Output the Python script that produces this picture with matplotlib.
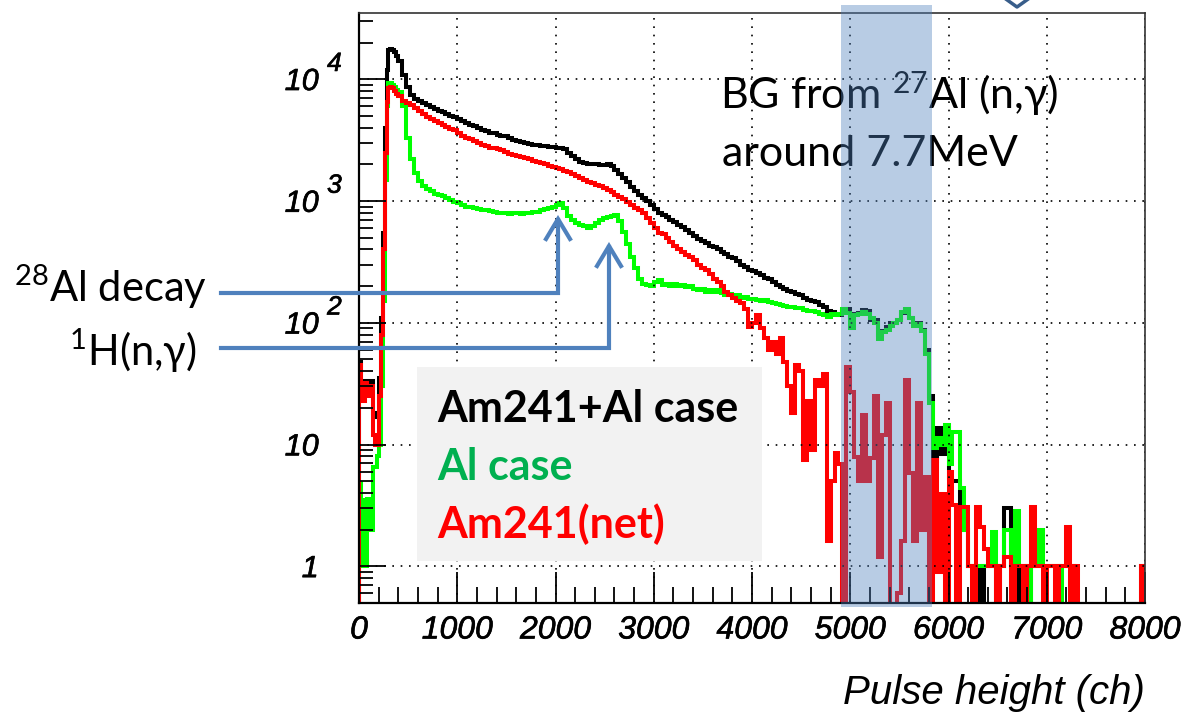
import numpy as np
import matplotlib
matplotlib.use('Agg')
import matplotlib.pyplot as plt
import matplotlib.patheffects as pe
from matplotlib.patches import Rectangle
from matplotlib.lines import Line2D
from matplotlib.ticker import MultipleLocator, LogLocator, NullFormatter
from matplotlib.transforms import blended_transform_factory

# ---- data -------------------------------------------------------------------
# bin edges in channels: 20 ch wide below 400, 40 ch wide above
edges = np.concatenate([np.arange(0, 400, 20), np.arange(400, 8001, 40)])

# Am241+Al case (black)
am_al = ([48, 31, 26, 33, 29, 31, 33, 18, 17, 18, 35, 110, 550, 4000, 12000,
          17500, 17800, 17400, 16600, 15500] +
         [14000, 10800, 8700, 7400, 6900, 6600, 6400, 6100, 5900, 5700, 5500, 5350,
          5200, 5000, 4900] +
         [4700, 4500, 4350, 4250, 4100, 3950, 3850, 3780, 3650, 3600, 3500, 3450, 3400,
          3280, 3200, 3120, 3050, 3000, 2950, 2900, 2880, 2850, 2820, 2800, 2770] +
         [2750, 2720, 2650, 2500, 2350, 2200, 2100, 2050, 2030, 2000, 2000, 1990, 1990,
          2000, 1950, 1800, 1680, 1550, 1420, 1300, 1200, 1130, 1060, 1000, 930] +
         [860, 800, 770, 740, 700, 670, 640, 610, 580, 550, 520, 490, 470, 450, 430,
          420, 400, 385, 370, 350, 340, 320, 300, 285, 270] +
         [265, 255, 245, 235, 230, 215, 205, 195, 190, 182, 178, 172, 168, 160, 155,
          150, 148, 140, 135, 125, 122, 118, 115, 125, 130] +
         [110, 118, 120, 128, 125, 105, 105, 80, 86, 92, 100, 100, 105, 120, 128, 110,
          98, 100, 88, 60, 25, 7.3, 13.7, 8.3, 13.7] +
         [5.3, 5, 5, 3, 2, 1, 1, 1, 0, 1, 1, 1, 0, 1, 3, 3, 1, 1, 0, 1, 0, 1, 1, 1, 1] +
         [1, 1, 1, 1, 1, 1, 1] + [0] * 17 + [1])

# Al case (green)
al = ([4.8, 1.0, 3.5, 1.0, 3.6, 3.0, 2.0, 6.5, 6.5, 8.0, 10, 30, 150, 1500, 6000,
       9300, 9300, 9000, 8600, 8200] +
      [7800, 6000, 3300, 2200, 1700, 1450, 1320, 1250, 1200, 1150, 1120, 1100, 1060,
       1020, 990] +
      [960, 930, 900, 890, 870, 860, 850, 840, 830, 820, 800, 790, 790, 780, 800, 790,
       780, 800, 790, 810, 820, 840, 860, 880, 900] +
      [920, 960, 870, 760, 700, 660, 640, 620, 600, 620, 660, 700, 720, 740, 750, 770,
       680, 560, 440, 350, 280, 230, 210, 205, 200] +
      [215, 225, 205, 210, 200, 210, 200, 205, 195, 200, 190, 185, 190, 180, 185, 178,
       185, 175, 170, 172, 165, 168, 160, 162, 158] +
      [158, 155, 150, 154, 148, 145, 142, 140, 138, 136, 135, 133, 132, 128, 125, 126,
       122, 118, 115, 112, 118, 115, 118, 130, 120] +
      [90, 115, 118, 123, 118, 110, 100, 74, 84, 88, 95, 100, 105, 123, 130, 110, 95,
       98, 85, 55, 22, 9.4, 11.3, 10, 14.6] +
      [6.9, 12.8, 12.8, 4.4, 2, 1, 1, 1, 1, 1, 1, 1.9, 1, 1, 2, 2, 1, 2.85, 1, 1, 0, 1,
       1, 2, 1] +
      [1, 1, 1, 0, 1, 1, 1] + [0] * 18)

# Am241 net (red)
net = ([45, 28, 23, 32, 25, 28, 30, 12, 10, 10, 25, 80, 400, 2500, 6500, 8500, 8700,
        8400, 8000, 7600] +
       [7300, 6600, 6400, 6100, 5800, 5500, 5200, 4900, 4700, 4500, 4350, 4200, 4050,
        3900, 3800] +
       [3600, 3400, 3300, 3250, 3100, 3000, 2900, 2850, 2750, 2700, 2650, 2600, 2550,
        2450, 2400, 2350, 2300, 2250, 2200, 2150, 2100, 2050, 2000, 1950, 1900] +
       [1880, 1830, 1780, 1720, 1680, 1620, 1550, 1490, 1440, 1400, 1360, 1320, 1290,
        1230, 1180, 1120, 1080, 1030, 980, 930, 880, 840, 790, 720, 660] +
       [600, 550, 540, 500, 460, 430, 400, 380, 360, 345, 330, 300, 280, 270, 250,
        230, 215, 200, 180, 170, 160, 150, 145, 130, 92] +
       [100, 115, 90, 75, 60, 70, 55, 75, 48, 30, 18, 45, 40, 7.5, 23, 9, 34, 30, 38,
        1.6, 5, 8.5, 6.9, 0, 43] +
       [27, 7.9, 5, 17.5, 5, 7.8, 25, 1.2, 12, 22, 0, 0, 0.6, 1.6, 34, 5.8, 1.6, 22, 2,
        5.4, 0, 7.5, 0.9, 3.9, 0] +
       [5.9, 3.2, 0, 3.1, 3.1, 1, 0, 3.1, 2.1, 1.4, 1, 1, 0, 1, 1.2, 1.2, 0, 1, 1, 0, 1,
        3.1, 1, 1, 0] +
       [1, 1, 0, 1, 1, 2.1, 0, 1] + [0] * 16 + [1])

x_ticks = np.arange(0, 8001, 1000)
y_ticks = [1, 10, 100, 1000, 10000]
y_tick_base = ['1', '10', '10', '10', '10']
y_tick_exp = ['', '', '2', '3', '4']
bg_band = (4906, 5832)      # shaded 27Al(n,g) window, channels

series = [(am_al, 'black', 'Am241+Al case', 'black'),
          (al, '#00ff00', 'Al case', '#00b050'),
          (net, 'red', 'Am241(net)', '#ff0000')]

# ---- figure -----------------------------------------------------------------
plt.rcParams['mathtext.fontset'] = 'custom'
plt.rcParams['mathtext.rm'] = 'Lato'
plt.rcParams['mathtext.it'] = 'Lato:italic'
plt.rcParams['mathtext.bf'] = 'Lato:bold'

W, H = 1192, 717
fig = plt.figure(figsize=(W / 100, H / 100), dpi=100)


def px(x, y):
    return x / W, 1 - y / H


ax = fig.add_axes([359 / W, 1 - 603 / H, 786 / W, 590 / H])

for vals, col, _, _ in series:
    v = np.asarray(vals, float)
    assert len(v) == len(edges) - 1
    v = np.where(v > 0, v, 1e-3)
    ax.stairs(v, edges, baseline=1e-3, color=col, lw=2.9)

ax.set_yscale('log')
ax.set_xlim(0, 8000)
ax.set_ylim(0.5, 3.5e4)

# ROOT-like slightly heavy italic labels
heavy = [pe.withStroke(linewidth=0.45, foreground='black')]

ax.set_xticks(x_ticks)
ax.xaxis.set_minor_locator(MultipleLocator(200))
ax.yaxis.set_major_locator(LogLocator(base=10, numticks=10))
ax.yaxis.set_minor_locator(LogLocator(base=10, subs=np.arange(2, 10), numticks=20))
ax.yaxis.set_minor_formatter(NullFormatter())
ax.set_xticklabels([str(t) for t in x_ticks], fontsize=23, style='italic',
                   family='Liberation Sans', path_effects=heavy)
ax.tick_params(which='both', direction='in', top=False, right=False, width=1.3)
ax.tick_params(axis='x', which='major', length=22, pad=9)
ax.tick_params(axis='x', which='minor', length=11.5)
ax.tick_params(axis='y', which='major', length=19.5, labelleft=False)
ax.tick_params(axis='y', which='minor', length=10, labelleft=False)
ax.grid(True, which='major', color='black', linestyle=(0, (1, 4)), lw=1.2)
for side in ['left', 'bottom']:
    ax.spines[side].set_linewidth(1.6)
for side in ['top', 'right']:
    ax.spines[side].set_linewidth(1.2)
    ax.spines[side].set_color('#333333')

ytf = ax.get_yaxis_transform()
for val, base, ex in zip(y_ticks, y_tick_base, y_tick_exp):
    ax.annotate(base, xy=(0, val), xycoords=ytf, xytext=(-29, -2),
                textcoords='offset points', ha='right', va='center',
                fontsize=22, style='italic', family='Liberation Sans',
                path_effects=heavy)
    if ex:
        ax.annotate(ex, xy=(0, val), xycoords=ytf, xytext=(-23, 11),
                    textcoords='offset points', ha='left', va='center',
                    fontsize=19, style='italic', family='Liberation Sans',
                    path_effects=heavy)

fig.text(*px(1145, 704), 'Pulse height (ch)', ha='right', va='baseline',
         fontsize=29, style='italic', family='Liberation Sans')

# legend box
fig.add_artist(Rectangle(px(417, 561), 345 / W, 194 / H, transform=fig.transFigure,
                         facecolor='#f2f2f2', lw=0, zorder=2))
for i, (_, _, label, tcol) in enumerate(series):
    fig.text(*px(437, 422 + 58 * i), label, ha='left', va='baseline', fontsize=31,
             weight='bold', family='Lato', color=tcol, zorder=3)

# shaded background window
band_tr = blended_transform_factory(ax.transData, fig.transFigure)
fig.add_artist(Rectangle((bg_band[0], 1 - 607 / H), bg_band[1] - bg_band[0], 602 / H,
                         transform=band_tr, facecolor='#4f81bd', alpha=0.4, lw=0,
                         zorder=4))

fig.text(*px(720, 109), 'BG from $^{27}$Al (n,\u03b3)', ha='left', va='baseline',
         fontsize=31, family=['Lato', 'DejaVu Sans'])
fig.text(*px(722, 166), 'around 7.7MeV', ha='left', va='baseline',
         fontsize=31, family=['Lato', 'DejaVu Sans'])

# callout lines with open arrow heads
blue = '#4f81bd'
callouts = [
    ('$^{28}$Al decay', (207, 302), [(221, 293), (558, 293), (558, 220)],
     [(546, 239), (558, 219), (570, 239)]),
    ('$^{1}$H(n,\u03b3)', (197, 366), [(221, 348), (609, 348), (609, 247)],
     [(597, 266), (609, 246), (621, 266)]),
]
for text, tpos, path, head in callouts:
    fig.text(*px(*tpos), text, ha='right', va='baseline', fontsize=30,
             family=['Lato', 'DejaVu Sans'])
    for pts in (path, head):
        xs, ys = zip(*[px(x, y) for x, y in pts])
        fig.add_artist(Line2D(xs, ys, transform=fig.transFigure, color=blue, lw=3.0,
                              solid_joinstyle='miter', zorder=3))

# partial arrow outline at the top edge
xs, ys = zip(*[px(x, y) for x, y in [(1003, -3), (1017, 7), (1031, -3)]])
fig.add_artist(Line2D(xs, ys, transform=fig.transFigure, color='#385d8a', lw=2.5,
                      zorder=3))

fig.savefig('out.png', dpi=100)
